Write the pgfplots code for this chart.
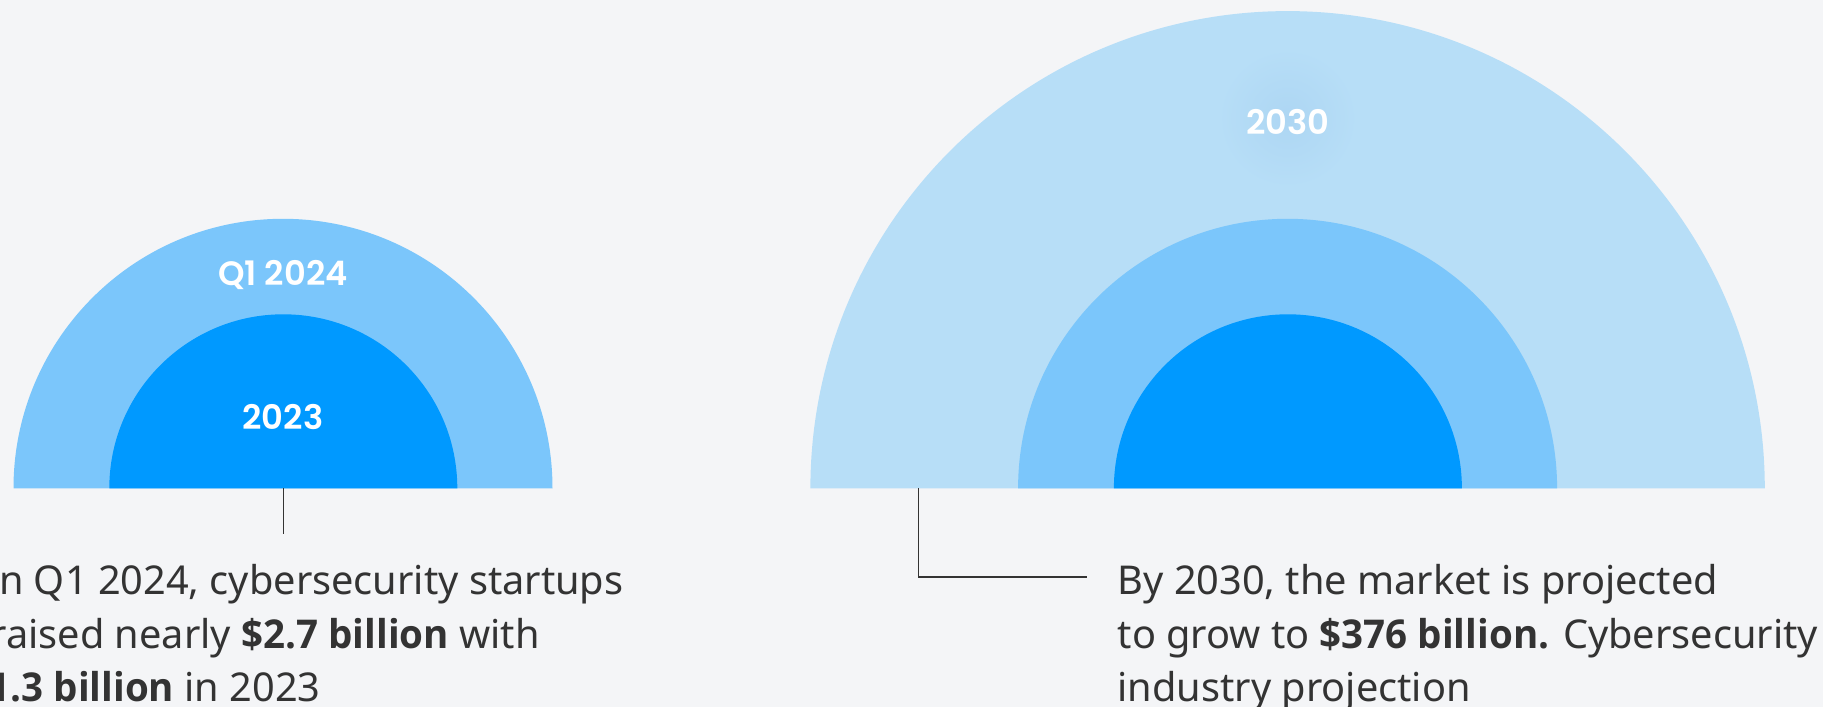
\documentclass[border=0pt]{standalone}
\usepackage{pgfplots}
\pgfplotsset{compat=1.18}
\usepackage{fontspec}
\setmainfont{Noto Sans}
\newfontfamily\labfont{Poppins SemiBold}
\newfontfamily\bfont{Open Sans}[FakeStretch=0.97]
\newcommand{\B}[1]{{\bfont\bfseries #1}}
\definecolor{bg}{HTML}{F4F5F7}
\definecolor{cin}{HTML}{0099FF}
\definecolor{cmid}{HTML}{7BC6FB}
\definecolor{cout}{HTML}{B7DEF7}
\definecolor{glow}{HTML}{ADD6F3}
\definecolor{txt}{HTML}{333333}
\begin{document}
\begin{tikzpicture}
\useasboundingbox (0,0) rectangle (182.3mm,70.7mm);
\fill[bg] (0,0) rectangle (182.3mm,70.7mm);
\begin{scope}
\clip (0,0) rectangle (182.3mm,70.7mm);
\begin{axis}[at={(0,0)}, anchor=south west, scale only axis,
  width=182.3mm, height=70.7mm, xmin=0, xmax=1823, ymin=0, ymax=707,
  y dir=reverse, hide axis, clip=false]
% left half-discs (Q1 2024 outer, 2023 inner), centre x=283, base y=488.3
\fill[cmid] (axis cs:13.5,488.3) arc[start angle=180,end angle=0,radius=26.95mm] -- cycle;
\fill[cin] (axis cs:109.3,488.3) arc[start angle=180,end angle=0,radius=17.4mm] -- cycle;
% right half-discs (2030 outer), centre x=1287.6
\fill[cout] (axis cs:810.4,488.3) arc[start angle=180,end angle=0,radius=47.72mm] -- cycle;
\shade[inner color=glow, outer color=cout] (axis cs:1287.6,118) circle[radius=7mm];
\fill[cmid] (axis cs:1018.1,488.3) arc[start angle=180,end angle=0,radius=26.95mm] -- cycle;
\fill[cin] (axis cs:1113.9,488.3) arc[start angle=180,end angle=0,radius=17.4mm] -- cycle;
% labels
\node[text=white, font=\labfont\fontsize{9.6}{11}\selectfont, inner sep=0] at (axis cs:283,275.5) {Q1 2024};
\node[text=white, font=\labfont\fontsize{9.6}{11}\selectfont, inner sep=0] at (axis cs:283,417) {2023};
\node[text=white, font=\labfont\fontsize{9.6}{11}\selectfont, inner sep=0] at (axis cs:1287.6,122.5) {2030};
% connectors
\addplot[draw=txt, line width=0.35pt] coordinates {(283.5,488.3) (283.5,533.5)};
\addplot[draw=txt, line width=0.35pt] coordinates {(918.5,488.3) (918.5,577) (1087,577)};
% texts
\node[anchor=base west, inner sep=0, text=txt, font=\fontsize{11.3}{15.4}\selectfont] at (axis cs:-15,594.5) {In Q1 2024, cybersecurity startups};
\node[anchor=base west, inner sep=0, text=txt, font=\fontsize{11.3}{15.4}\selectfont] at (axis cs:-10,648) {raised nearly \B{\$2.7 billion} with};
\node[anchor=base west, inner sep=0, text=txt, font=\fontsize{11.3}{15.4}\selectfont] at (axis cs:-34,701.5) {\B{\$1.3 billion} in 2023};
\node[anchor=base west, inner sep=0, text=txt, font=\fontsize{11.3}{15.4}\selectfont] at (axis cs:1117,594.5) {By 2030, the market is projected};
\node[anchor=base west, inner sep=0, text=txt, font=\fontsize{11.3}{15.4}\selectfont] at (axis cs:1117,648) {to grow to \B{\$376 billion.} Cybersecurity};
\node[anchor=base west, inner sep=0, text=txt, font=\fontsize{11.3}{15.4}\selectfont] at (axis cs:1117,701.5) {industry projection};
\end{axis}
\end{scope}
\end{tikzpicture}
\end{document}
